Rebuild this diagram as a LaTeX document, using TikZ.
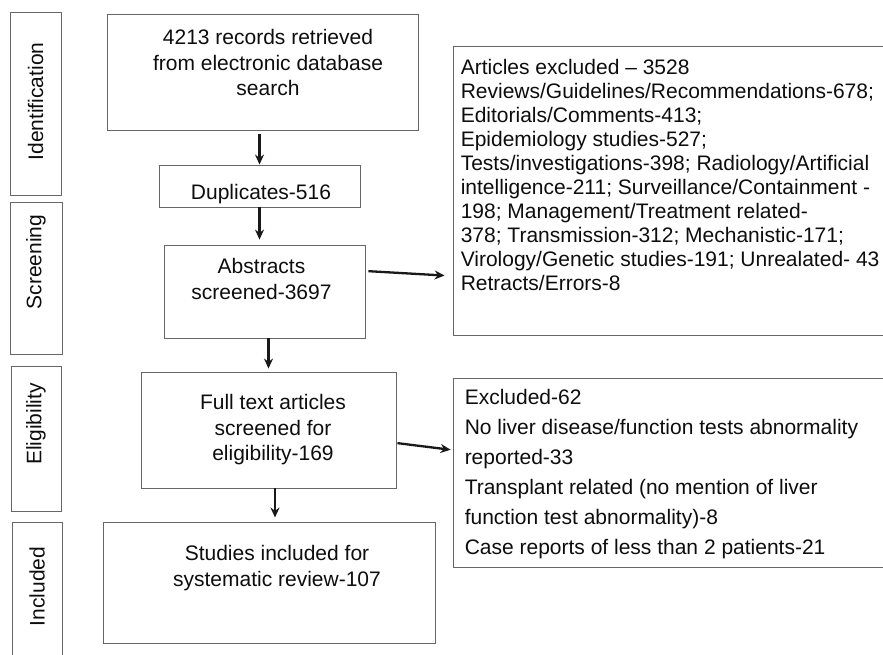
\documentclass[tikz,border=0pt]{standalone}
\usepackage{fontspec}
\setmainfont{Liberation Sans}
\usetikzlibrary{arrows.meta}

\begin{document}
\begin{tikzpicture}[x=1pt, y=-1pt,
stagebox/.style={draw=black!60, line width=0.9pt, inner sep=0pt},
stagetext/.style={rotate=90, font=\fontsize{21}{25}\selectfont, text=black!95, inner sep=0pt},
flowbox/.style={draw=black!60, line width=0.9pt, inner sep=0pt},
flowtext/.style={align=center, font=\fontsize{21}{25.5}\selectfont, text=black!95, inner sep=0pt},
listtext/.style={align=left, anchor=north west, text=black!95, inner sep=0pt},
arrow/.style={draw=black!90, line width=2.3pt, -{Stealth[length=10pt, width=9pt]}}
]
    \clip (0,0) rectangle (883,655);

    % stages on the left
    \node [stagebox, minimum width=51pt, minimum height=183pt] (ident) at (35.5,103.5) {};
    \node [stagebox, minimum width=52pt, minimum height=152pt] (screen) at (36,278) {};
    \node [stagebox, minimum width=50pt, minimum height=145pt] (elig) at (36,438.5) {};
    \node [stagebox, minimum width=50pt, minimum height=136pt] (incl) at (37,590) {};

    \node [stagetext] (identt) at ([yshift=2pt]ident.center) {Identification};
    \node [stagetext] (screent) at ([yshift=16pt]screen.center) {Screening};
    \node [stagetext] (eligt) at ([yshift=14.5pt]elig.center) {Eligibility};
    \node [stagetext] (inclt) at ([yshift=3.5pt]incl.center) {Included};

    % flow boxes
    \node [flowbox, minimum width=311pt, minimum height=116pt] (rec) at (262.5,72) {};
    \node [flowbox, minimum width=201pt, minimum height=42pt] (dup) at (259.5,186) {};
    \node [flowbox, minimum width=201pt, minimum height=93pt] (abs) at (264.5,291.5) {};
    \node [flowbox, minimum width=255pt, minimum height=116pt] (full) at (268.5,430) {};
    \node [flowbox, minimum width=332pt, minimum height=121pt] (stud) at (269,582.5) {};

    \node [flowtext] (rect) at ([xshift=5.5pt, yshift=9.5pt]rec.center) {4213 records retrieved\\from electronic database\\search};
    \node [flowtext] (dupt) at ([xshift=1.5pt, yshift=-8.5pt]dup.center) {Duplicates-516};
    \node [flowtext] (abst) at ([xshift=-3pt, yshift=12.5pt]abs.center) {Abstracts\\screened-3697};
    \node [flowtext] (fullt) at ([xshift=4.5pt]full.center) {Full text articles\\screened for\\eligibility-169};
    \node [flowtext] (studt) at ([xshift=8pt, yshift=14.5pt]stud.center) {Studies included for\\systematic review-107};

    % exclusion boxes, cut at the right edge
    \node [flowbox, minimum width=447pt, minimum height=289pt] (excl1) at (676.5,190.5) {};
    \node [flowbox, minimum width=447pt, minimum height=189pt] (excl2) at (676.5,472.5) {};

    \node [listtext, font=\fontsize{21}{24}\selectfont] (excl1t) at ([xshift=8pt, yshift=-13.7pt]excl1.north west)
        {Articles excluded – 3528\\
         Reviews/Guidelines/Recommendations-678;\\
         Editorials/Comments-413;\\
         Epidemiology studies-527;\\
         Tests/investigations-398; Radiology/Artificial\\
         intelligence-211; Surveillance/Containment -\\
         198; Management/Treatment related-\\
         378; Transmission-312; Mechanistic-171;\\
         Virology/Genetic studies-191; Unrealated- 43\\
         Retracts/Errors-8};
    \node [listtext, font=\fontsize{21}{30}\selectfont] (excl2t) at ([xshift=12pt, yshift=-12pt]excl2.north west)
        {Excluded-62\\
         No liver disease/function tests abnormality\\
         reported-33\\
         Transplant related (no mention of liver\\
         function test abnormality)-8\\
         Case reports of less than 2 patients-21};

    \draw [arrow, shorten <=4pt] (rec.south -| dup.north) -- (dup.north);
    \draw [arrow, shorten >=5pt] (dup.south) -- (dup.south |- abs.north);
    \draw [arrow, shorten >=3pt] (full.north |- abs.south) -- (full.north);
    \draw [arrow, shorten >=4pt] ([xshift=6.5pt]full.south) -- ([xshift=6.5pt]full.south |- stud.north);
    \draw [arrow, shorten <=3pt, shorten >=8pt] ([yshift=20.5pt]abs.east) -- ([yshift=-85.5pt]excl1.west);
    \draw [arrow, shorten <=1pt, shorten >=2pt] ([yshift=-13pt]full.east) -- ([yshift=22.5pt]excl2.west);
\end{tikzpicture}
\end{document}
